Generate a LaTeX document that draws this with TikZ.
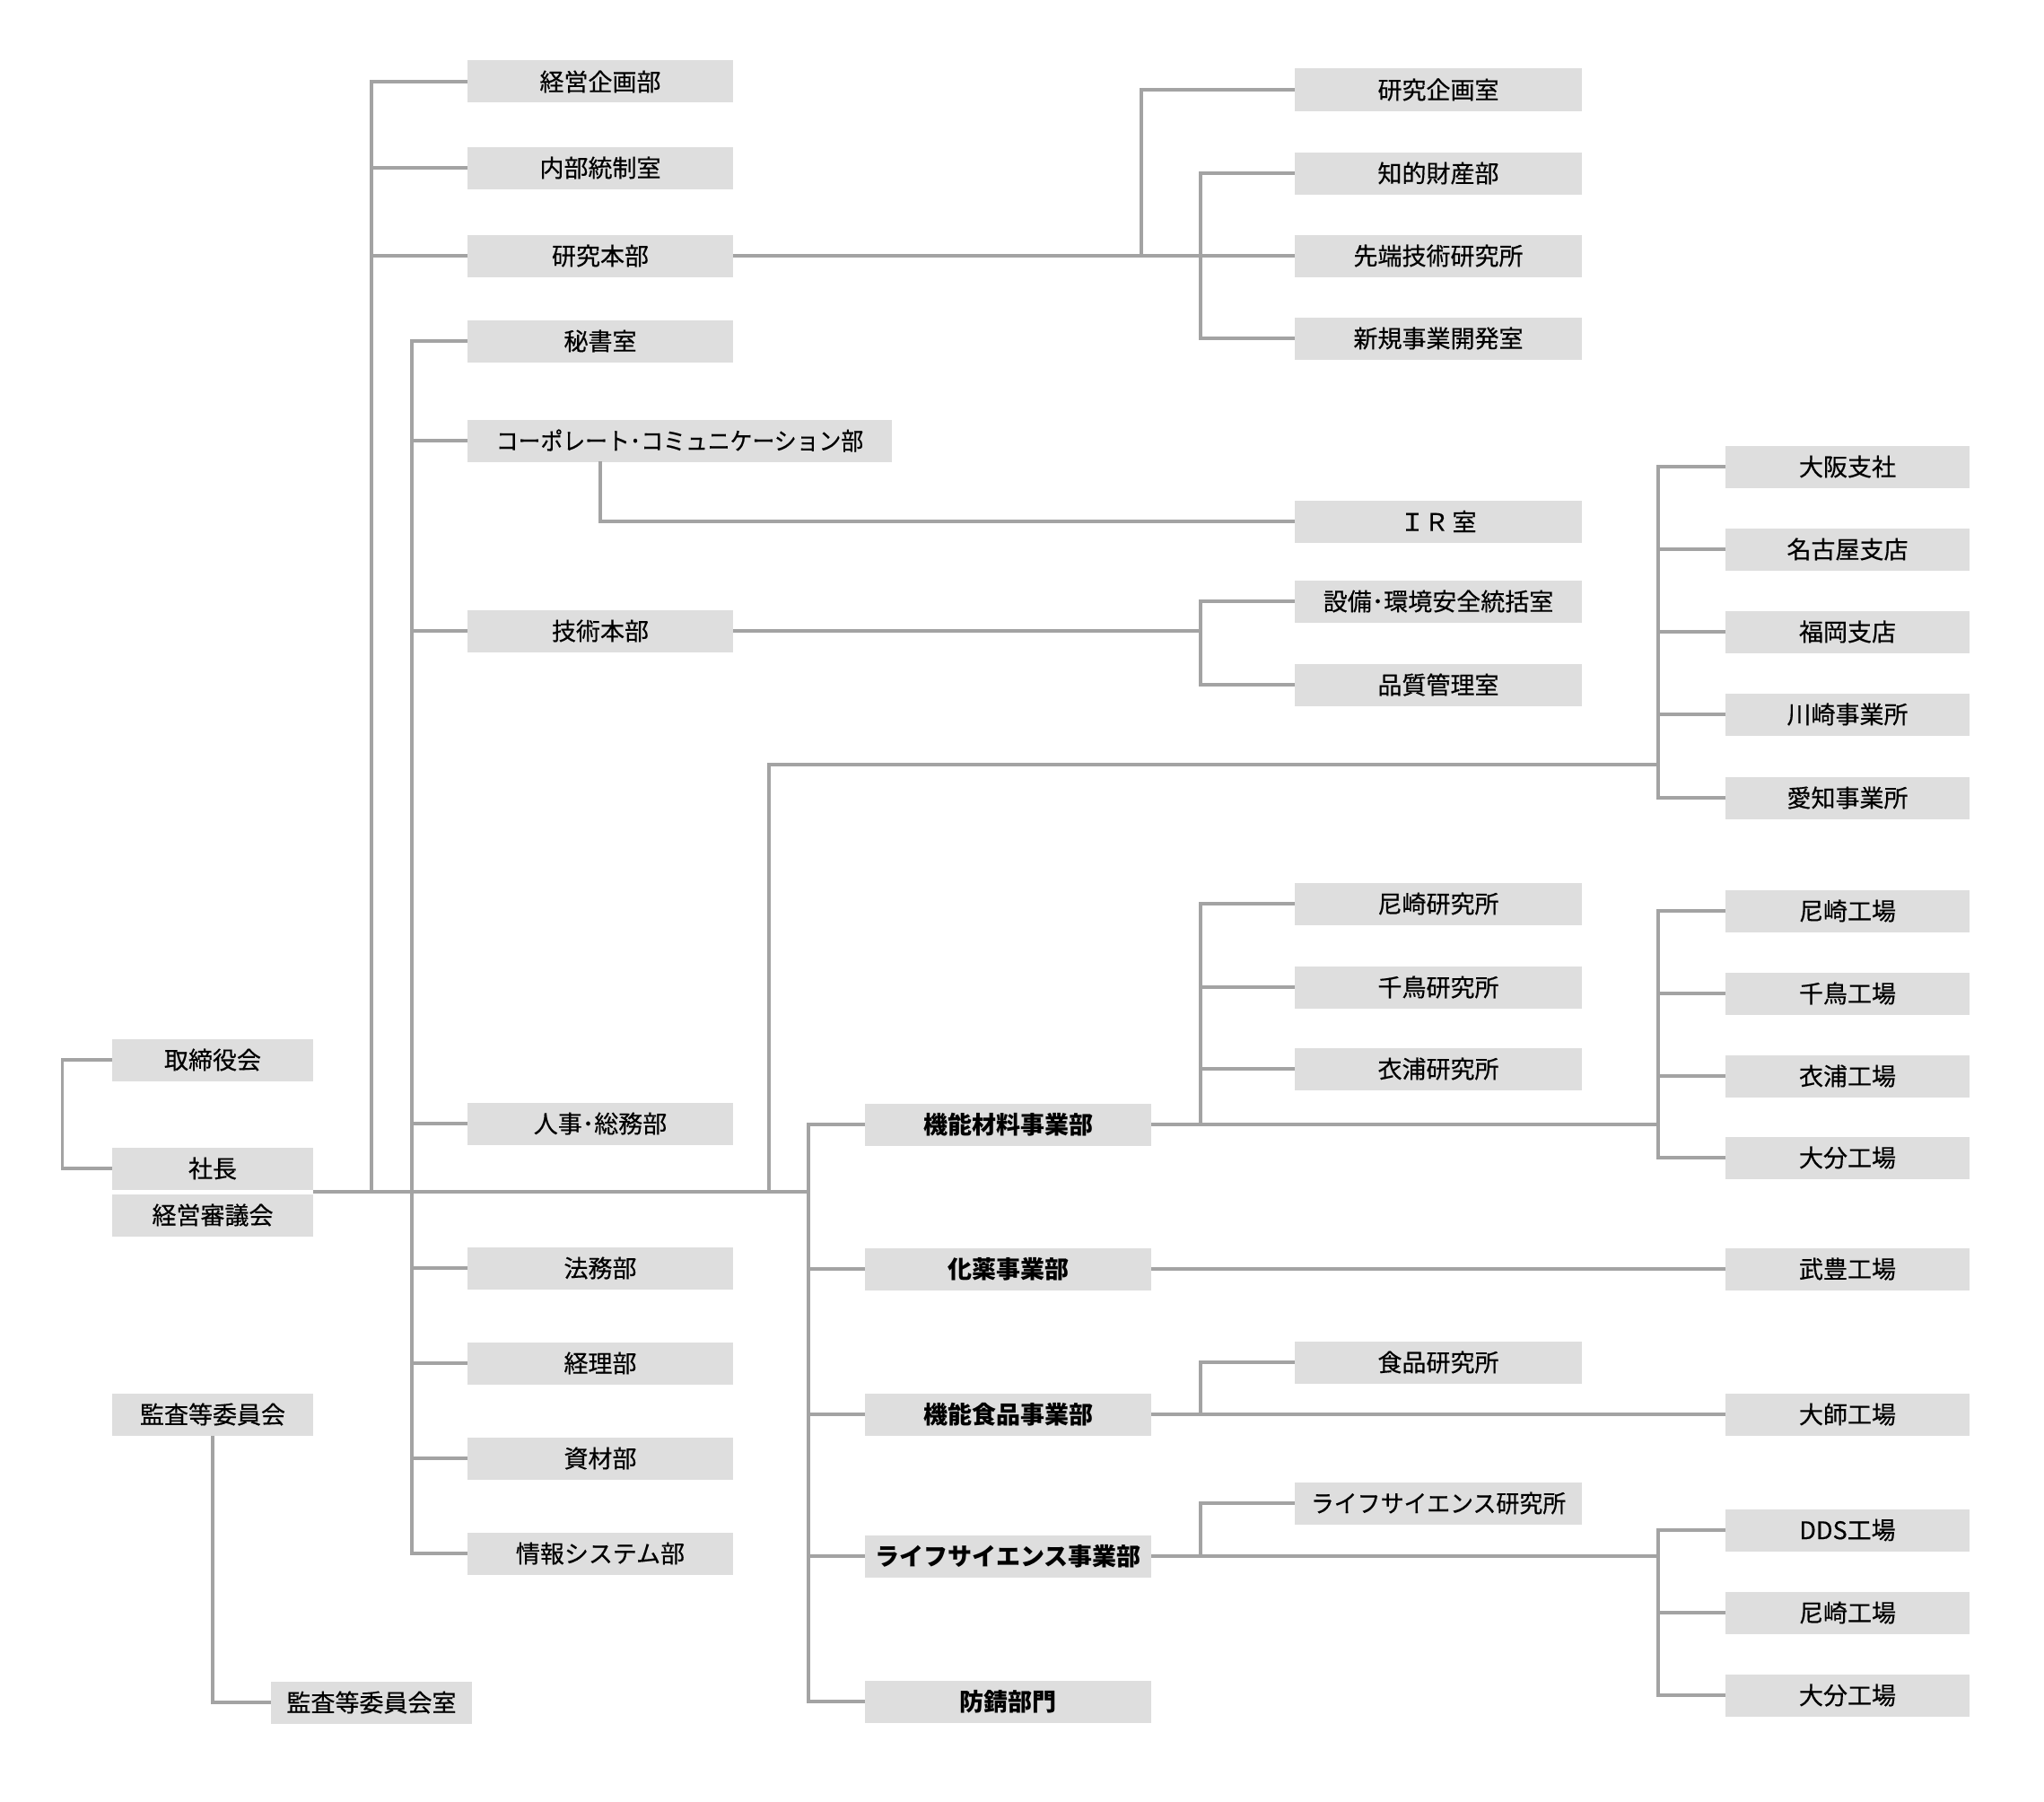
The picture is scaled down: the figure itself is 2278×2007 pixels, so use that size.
\documentclass[tikz,border=0pt]{standalone}
\usepackage{graphicx}
\usepackage{fontspec}
\setmainfont{Noto Sans CJK JP}[UprightFeatures={FakeBold=0.4}]
\definecolor{boxgray}{HTML}{DEDEDE}
\definecolor{linegray}{HTML}{A3A3A3}
\newcommand\fs{\fontsize{13.5}{16}\selectfont}
\tikzset{
  box/.style={fill=boxgray, draw=none, inner sep=0pt, minimum height=23.5pt, font=\fs, text=black},
  divbox/.style={box, font=\fs\bfseries},
  cA/.style={minimum width=112pt},
  cB/.style={minimum width=148pt},
  cC/.style={minimum width=159.5pt},
  cD/.style={minimum width=160pt},
  cE/.style={minimum width=136pt},
  conn/.style={draw=linegray, line width=1.75pt},
}
\begin{document}
\begin{tikzpicture}[x=0.5pt, y=-0.5pt]
\useasboundingbox (0,0) rectangle (2278,2007);
% column 1
\node[box,cA] (torishimari) at (237,1181) {取締役会};
\node[box,cA] (shacho) at (237,1302) {社長};
\node[box,cA] (shingi) at (237,1354) {経営審議会};
\node[box,cA] (kansa) at (237,1576) {監査等委員会};
\node[box,cA] (kansashitsu) at (414,1897) {監査等委員会室};
% column 2
\node[box,cB] (keiei) at (669,91) {経営企画部};
\node[box,cB] (naibu) at (669,187) {内部統制室};
\node[box,cB] (kenkyu) at (669,285) {研究本部};
\node[box,cB] (hisho) at (669,380) {秘書室};
\node[box,minimum width=236.5pt] (corp) at (757.5,491) {\scalebox{0.92}[1]{コーポレート･コミュニケーション部}};
\node[box,cB] (gijutsu) at (669,703) {技術本部};
\node[box,cB] (jinji) at (669,1252) {人事･総務部};
\node[box,cB] (homu) at (669,1413) {法務部};
\node[box,cB] (keiri) at (669,1519) {経理部};
\node[box,cB] (shizai) at (669,1625) {資材部};
\node[box,cB] (joho) at (669,1731) {情報システム部};
% column 3
\node[divbox,cC] (kinozai) at (1123.5,1253) {機能材料事業部};
\node[divbox,cC] (kayaku) at (1123.5,1414) {化薬事業部};
\node[divbox,cC] (kinoshoku) at (1123.5,1576) {機能食品事業部};
\node[divbox,cC] (lifesci) at (1123.5,1734) {ライフサイエンス事業部};
\node[divbox,cC] (bosei) at (1123.5,1896) {防錆部門};
% column 4
\node[box,cD] (kikaku) at (1603,100) {研究企画室};
\node[box,cD] (chiteki) at (1603,193) {知的財産部};
\node[box,cD] (sentan) at (1603,285) {先端技術研究所};
\node[box,cD] (shinki) at (1603,377) {新規事業開発室};
\node[box,cD] (ir) at (1603,581) {ＩＲ\kern2pt 室};
\node[box,cD] (setsubi) at (1603,670) {設備･環境安全統括室};
\node[box,cD] (hinshitsu) at (1603,763) {品質管理室};
\node[box,cD] (amaken) at (1603,1007) {尼崎研究所};
\node[box,cD] (chiken) at (1603,1100) {千鳥研究所};
\node[box,cD] (kinuken) at (1603,1191) {衣浦研究所};
\node[box,cD] (shokuken) at (1603,1518) {食品研究所};
\node[box,cD] (lsken) at (1603,1675) {\scalebox{0.96}[1]{ライフサイエンス研究所}};
% column 5
\node[box,cE] (osaka) at (2059,520) {大阪支社};
\node[box,cE] (nagoya) at (2059,612) {名古屋支店};
\node[box,cE] (fukuoka) at (2059,704) {福岡支店};
\node[box,cE] (kawasaki) at (2059,796) {川崎事業所};
\node[box,cE] (aichi) at (2059,889) {愛知事業所};
\node[box,cE] (amako) at (2059,1015) {尼崎工場};
\node[box,cE] (chiko) at (2059,1107) {千鳥工場};
\node[box,cE] (kinuko) at (2059,1199) {衣浦工場};
\node[box,cE] (oitako) at (2059,1290) {大分工場};
\node[box,cE] (taketoyo) at (2059,1414) {武豊工場};
\node[box,cE] (daishi) at (2059,1576) {大師工場};
\node[box,cE] (dds) at (2059,1705) {DDS工場};
\node[box,cE] (amakob) at (2059,1797) {尼崎工場};
\node[box,cE] (oitakob) at (2059,1889) {大分工場};
% junction coordinates
\coordinate (m0) at (349,1328);
\coordinate (tA) at (414,1328);
\coordinate (tB) at (459,1328);
\coordinate (tO) at (857,1328);
\coordinate (tC) at (901,1328);
\coordinate (k1) at (1272,285);
\coordinate (k2) at (1338,285);
\coordinate (irs) at (669,514);
\coordinate (g1) at (1338,703);
\coordinate (o1) at (1848,852);
\coordinate (z1) at (1338,1253);
\coordinate (z2) at (1848,1253);
\coordinate (s1) at (1338,1576);
\coordinate (l1) at (1338,1734);
\coordinate (l2) at (1848,1734);
% connectors
\draw[conn] (torishimari.west) -- ++(-55,0) |- (shacho.west);
\draw[conn] (m0) -- (tC);
\foreach \n in {keiei,naibu,kenkyu} \draw[conn] (tA) |- (\n.west);
\foreach \n in {hisho,corp,gijutsu,jinji,homu,keiri,shizai,joho} \draw[conn] (tB) |- (\n.west);
\foreach \n in {kinozai,kayaku,kinoshoku,lifesci,bosei} \draw[conn] (tC) |- (\n.west);
\draw[conn] (kenkyu.east) -- (sentan.west);
\draw[conn] (k1) |- (kikaku.west);
\foreach \n in {chiteki,shinki} \draw[conn] (k2) |- (\n.west);
\draw[conn] (irs) |- (ir.west);
\draw[conn] (gijutsu.east) -- (g1);
\foreach \n in {setsubi,hinshitsu} \draw[conn] (g1) |- (\n.west);
\draw[conn] (tO) |- (o1);
\foreach \n in {osaka,nagoya,fukuoka,kawasaki,aichi} \draw[conn] (o1) |- (\n.west);
\draw[conn] (kinozai.east) -- (z2);
\foreach \n in {amaken,chiken,kinuken} \draw[conn] (z1) |- (\n.west);
\foreach \n in {amako,chiko,kinuko,oitako} \draw[conn] (z2) |- (\n.west);
\draw[conn] (kayaku.east) -- (taketoyo.west);
\draw[conn] (kinoshoku.east) -- (daishi.west);
\draw[conn] (s1) |- (shokuken.west);
\draw[conn] (lifesci.east) -- (l2);
\draw[conn] (l1) |- (lsken.west);
\foreach \n in {dds,amakob,oitakob} \draw[conn] (l2) |- (\n.west);
\draw[conn] (kansa.south) |- (kansashitsu.west);
\end{tikzpicture}
\end{document}
